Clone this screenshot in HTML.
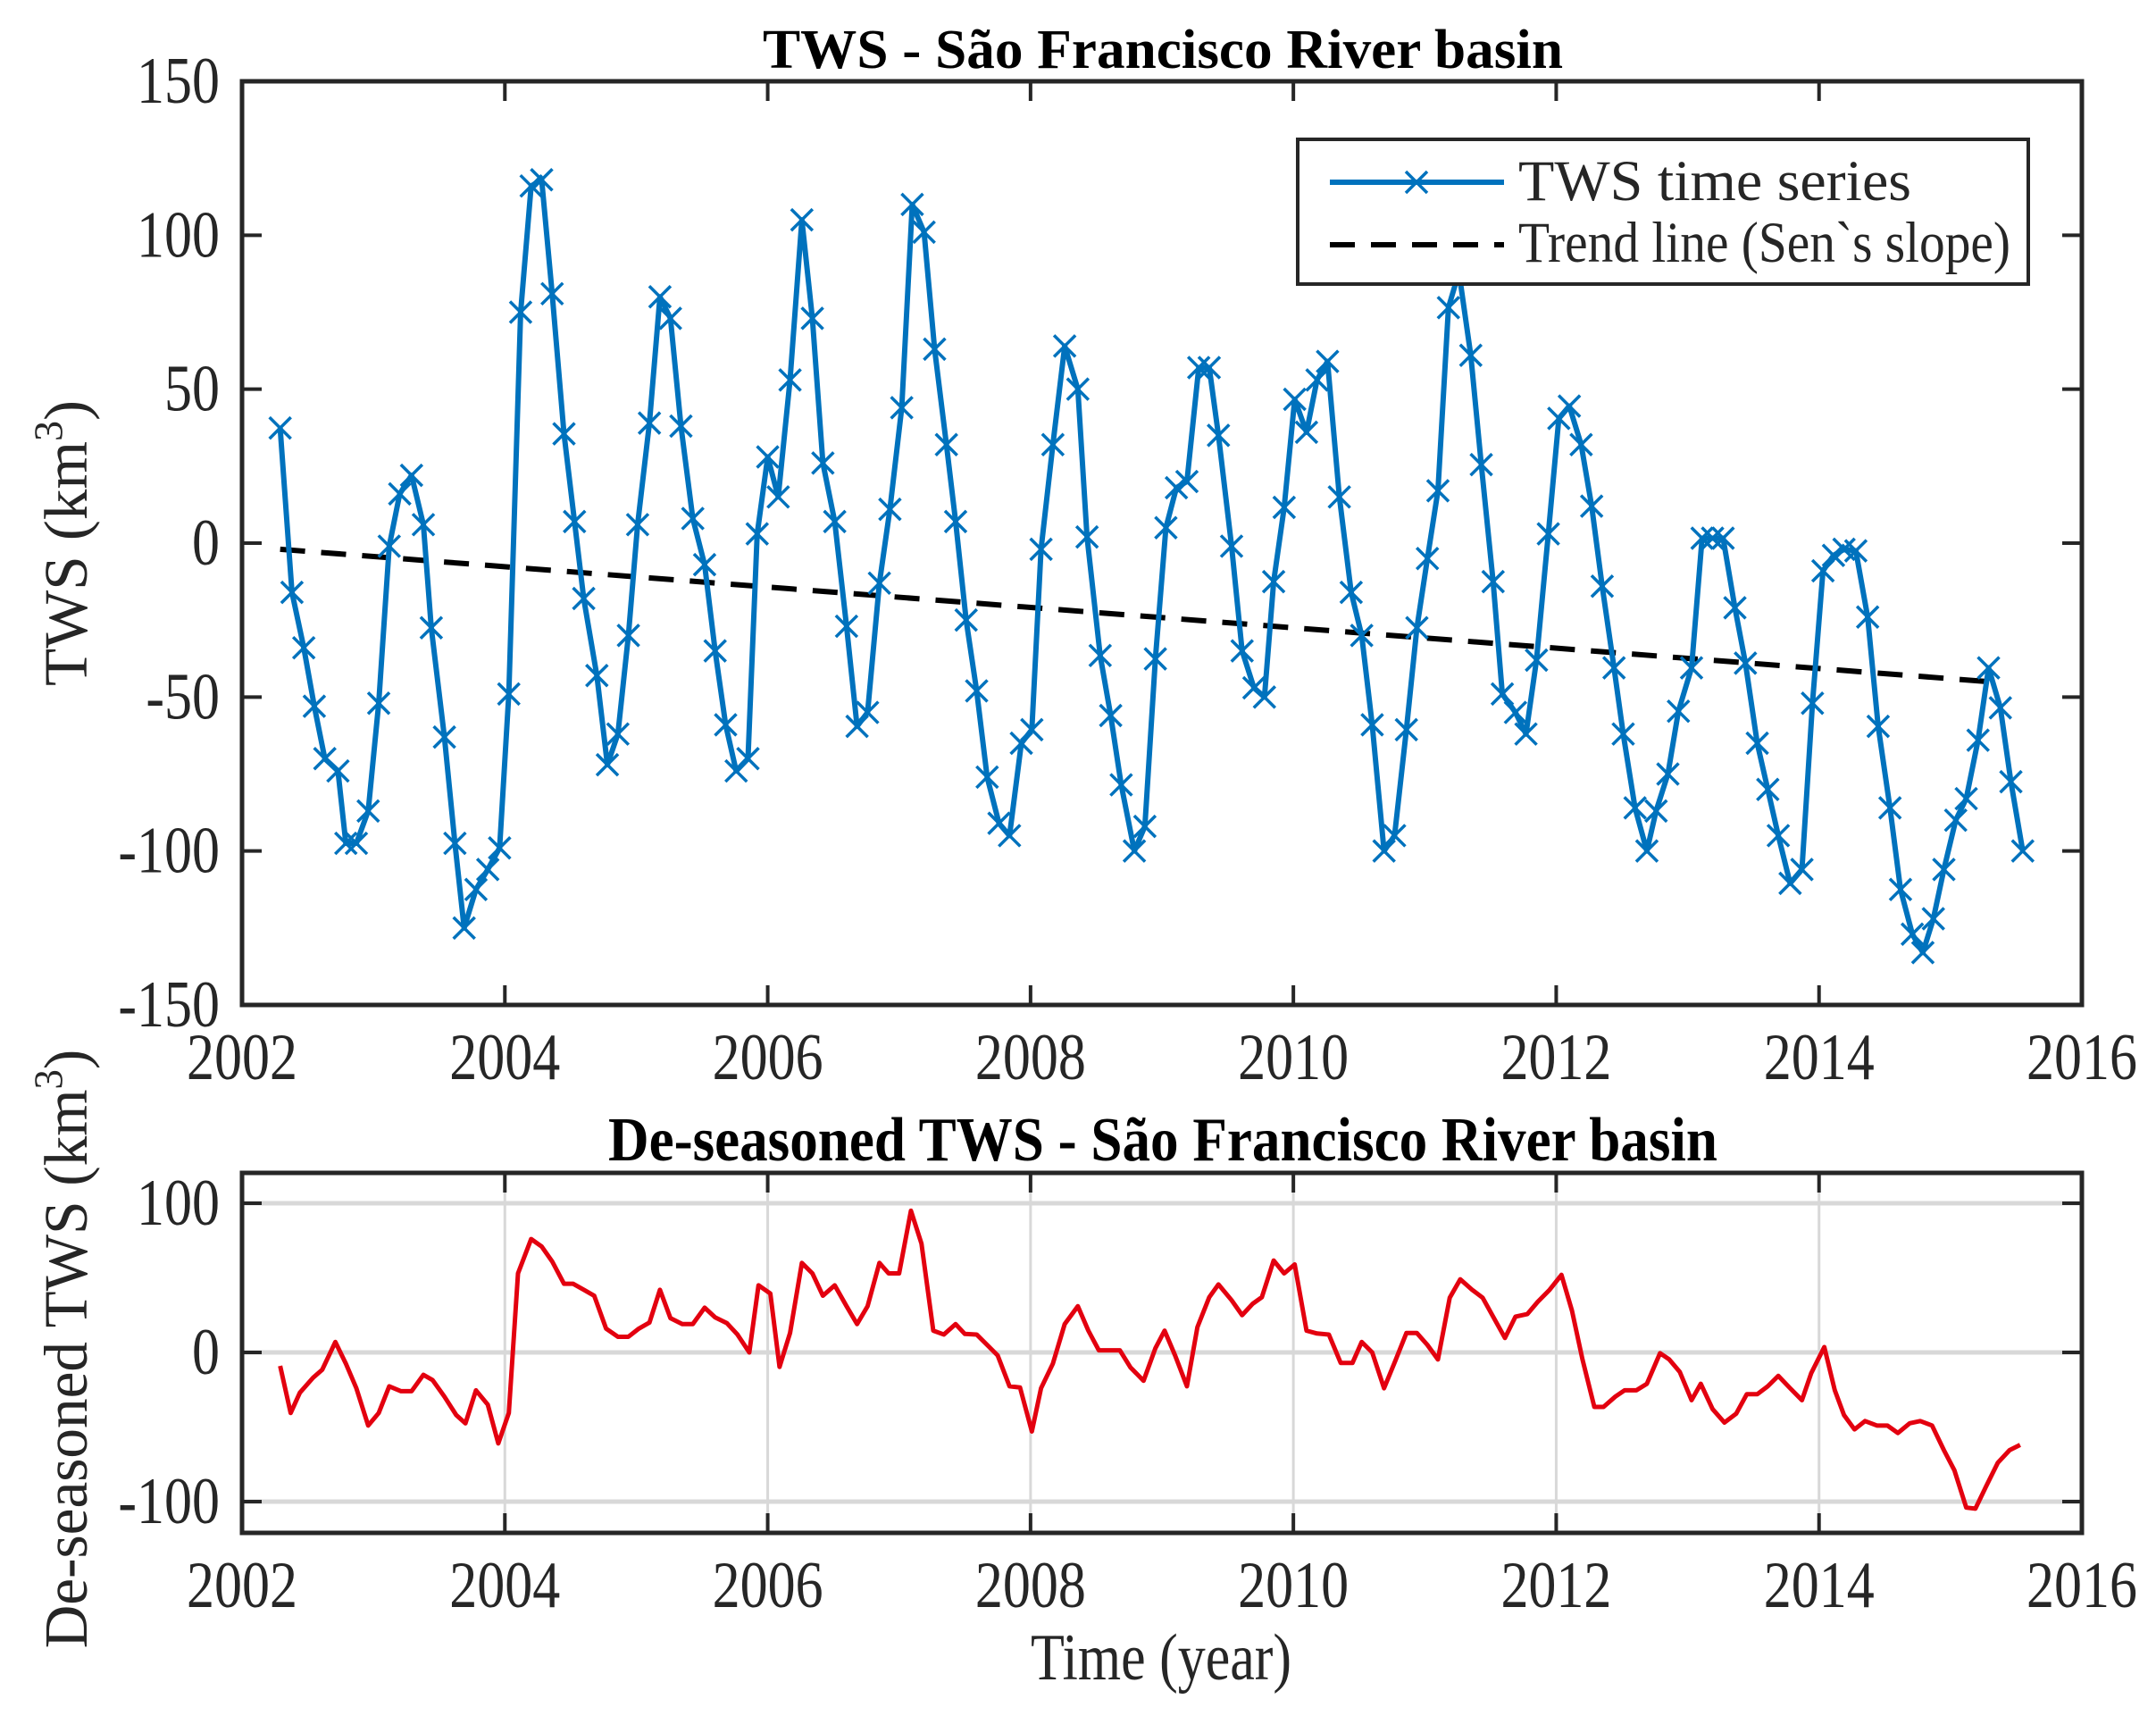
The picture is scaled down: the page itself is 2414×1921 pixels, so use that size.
<!DOCTYPE html>
<html><head><meta charset="utf-8">
<style>
html,body{margin:0;padding:0;background:#fff;}
svg{display:block;}
text{font-family:"Liberation Serif","Times New Roman",serif;fill:#262626;}
</style></head>
<body>
<svg id="chart" width="2414" height="1921" viewBox="0 0 2414 1921" xmlns="http://www.w3.org/2000/svg">
  <rect x="0" y="0" width="2414" height="1921" fill="#fff"/>
  <text transform="translate(1302,76) scale(1,1.2)" x="0" y="0" text-anchor="middle" font-size="52" font-weight="bold" style="fill:#000" textLength="896" lengthAdjust="spacingAndGlyphs">TWS - São Francisco River basin</text>
  <g id="top"></g>
  <text transform="translate(1302,1299) scale(1,1.3)" x="0" y="0" text-anchor="middle" font-size="54" font-weight="bold" style="fill:#000" textLength="1242" lengthAdjust="spacingAndGlyphs">De-seasoned TWS - São Francisco River basin</text>
  <g id="bottom"></g>
  <text transform="translate(97,608) rotate(-90) scale(1.15,1.15)" text-anchor="middle" font-size="60">TWS (km<tspan dy="-24" font-size="40">3</tspan><tspan dy="24">)</tspan></text>
  <text transform="translate(97,1510) rotate(-90) scale(1.12,1.15)" text-anchor="middle" font-size="60">De-seasoned TWS (km<tspan dy="-24" font-size="40">3</tspan><tspan dy="24">)</tspan></text>
  <text transform="translate(1300,1880) scale(1,1.2)" x="0" y="0" text-anchor="middle" font-size="62">Time (year)</text>
</svg>
<script>
const xTicks = [2002, 2004, 2006, 2008, 2010, 2012, 2014, 2016];
const topYTicks = [150, 100, 50, 0, -50, -100, -150];
const botYTicks = [100, 0, -100];
const twsYears = [2002.29,2002.38,2002.47,2002.55,2002.63,2002.73,2002.79,2002.87,2002.96,2003.04,2003.12,2003.20,2003.29,2003.38,2003.44,2003.54,2003.62,2003.69,2003.78,2003.87,2003.96,2004.03,2004.12,2004.20,2004.28,2004.36,2004.45,2004.53,2004.60,2004.70,2004.78,2004.86,2004.94,2005.01,2005.10,2005.18,2005.26,2005.34,2005.43,2005.52,2005.60,2005.68,2005.76,2005.85,2005.92,2006.00,2006.08,2006.17,2006.26,2006.34,2006.42,2006.51,2006.60,2006.68,2006.76,2006.85,2006.93,2007.02,2007.10,2007.19,2007.27,2007.36,2007.43,2007.51,2007.59,2007.67,2007.76,2007.84,2007.93,2008.01,2008.08,2008.17,2008.26,2008.36,2008.43,2008.53,2008.61,2008.69,2008.79,2008.87,2008.95,2009.03,2009.11,2009.19,2009.28,2009.36,2009.43,2009.53,2009.61,2009.70,2009.78,2009.85,2009.93,2010.01,2010.10,2010.18,2010.26,2010.35,2010.44,2010.52,2010.60,2010.69,2010.77,2010.86,2010.94,2011.02,2011.10,2011.18,2011.26,2011.35,2011.43,2011.52,2011.59,2011.69,2011.77,2011.85,2011.94,2012.02,2012.10,2012.19,2012.27,2012.35,2012.44,2012.51,2012.60,2012.69,2012.76,2012.85,2012.93,2013.03,2013.11,2013.19,2013.27,2013.36,2013.44,2013.53,2013.61,2013.69,2013.78,2013.87,2013.95,2014.03,2014.11,2014.19,2014.28,2014.37,2014.45,2014.54,2014.62,2014.71,2014.79,2014.87,2014.95,2015.04,2015.12,2015.21,2015.29,2015.38,2015.46,2015.55];
const twsValues = [37.4,-16,-34,-53,-70,-74,-97.5,-97.5,-87,-52,-1,16,22,6,-27.5,-63,-97.5,-125,-112.5,-106,-99,-49,75,116,118,81,35.5,7,-18,-43,-72,-62,-30,6,39,80,73,38,8,-7,-35,-59,-74,-70,3,28,15,53,105,73,26,7,-27,-59.5,-55,-13,11,44,110,101,63,32,7,-25,-48,-76,-91,-95,-65,-60.6,-2,32,64,50,2,-36.5,-56,-78.5,-100,-92,-37.6,5,18,20,57,57,35,-1,-35,-47,-50,-12.5,11.6,46.7,36,53,59,15,-16,-30,-59,-100,-95,-60.6,-27.5,-5,17,76.5,88,61,25.5,-12.5,-49,-55,-62,-38,3,40.5,44.5,32,12,-14,-40.5,-62,-86,-100,-87,-75,-54.6,-40.5,1.6,1.6,1.6,-21,-39,-65,-80,-95,-110.5,-106,-52,-9,-4,-2,-2.5,-24,-59.5,-86,-112.5,-127,-133,-122,-106,-90,-83,-64,-40.5,-53.5,-77.5,-100];
const trendYears = [2002.29, 2015.29];
const trendValues = [-2, -45];
const desYears = [2002.29,2002.37,2002.44,2002.54,2002.61,2002.71,2002.79,2002.87,2002.96,2003.04,2003.12,2003.21,2003.29,2003.38,2003.45,2003.54,2003.63,2003.70,2003.78,2003.87,2003.95,2004.03,2004.10,2004.20,2004.28,2004.36,2004.45,2004.52,2004.60,2004.68,2004.77,2004.86,2004.94,2005.02,2005.10,2005.18,2005.26,2005.35,2005.43,2005.52,2005.60,2005.69,2005.77,2005.86,2005.93,2006.02,2006.09,2006.17,2006.26,2006.34,2006.42,2006.51,2006.60,2006.68,2006.76,2006.85,2006.92,2007.00,2007.09,2007.17,2007.26,2007.34,2007.43,2007.50,2007.59,2007.67,2007.75,2007.84,2007.92,2008.01,2008.08,2008.17,2008.26,2008.36,2008.44,2008.52,2008.60,2008.68,2008.76,2008.86,2008.95,2009.02,2009.10,2009.19,2009.27,2009.36,2009.43,2009.53,2009.61,2009.69,2009.76,2009.85,2009.93,2010.01,2010.10,2010.18,2010.27,2010.36,2010.45,2010.52,2010.60,2010.69,2010.78,2010.86,2010.94,2011.02,2011.10,2011.19,2011.27,2011.36,2011.44,2011.52,2011.61,2011.69,2011.78,2011.86,2011.95,2012.04,2012.12,2012.20,2012.29,2012.36,2012.45,2012.52,2012.61,2012.69,2012.79,2012.86,2012.94,2013.03,2013.10,2013.19,2013.28,2013.37,2013.45,2013.53,2013.61,2013.69,2013.78,2013.87,2013.94,2014.04,2014.12,2014.19,2014.27,2014.35,2014.44,2014.52,2014.60,2014.69,2014.77,2014.86,2014.95,2015.03,2015.12,2015.19,2015.27,2015.36,2015.45,2015.53];
const desValues = [-9,-40.6,-27,-17,-11.6,7,-7.5,-24,-49,-40.6,-22.7,-26,-26,-15,-18.5,-29.6,-42,-47.5,-25.4,-35,-61,-40.6,53,76,71,61,46,46,42,38,16,10.5,10.5,16,20,42,23,19,19,30,23.5,19.6,12,0,45,39.5,-9.7,13,60,53,38,45,31,19,31,60,53,53,95,73,14.6,12,19,12.4,12,5,-2,-22.7,-23.5,-53,-24,-7.5,19,31,14.6,1.4,1.4,1.4,-10,-19,2.8,14.6,-2,-22.7,17,37,45.6,35,25,32.6,37,61.6,53,59,14.6,12.7,12,-7,-7,7,0,-24,-4.7,13,13,5,-4.7,36.7,49,42,36.7,24,9.7,24,25.7,34,42,52,28,-4.7,-36.5,-36.5,-29.6,-25.4,-25.4,-21,-0.5,-4.7,-13,-32,-21,-38,-47,-41,-28,-28,-22.7,-15.7,-24,-32,-14,3.6,-25.4,-42,-51.6,-46,-49,-49,-54,-47.5,-46,-49,-65.5,-79,-104,-104.7,-90,-74,-65.5,-62];

const NS = 'http://www.w3.org/2000/svg';
function mk(parent, tag, attrs) {
  const e = document.createElementNS(NS, tag);
  for (const k in attrs) e.setAttribute(k, attrs[k]);
  parent.appendChild(e);
  return e;
}
const L = 271, R = 2331;
const xScale = v => L + (v - 2002) / 14 * (R - L);
const topY = v => 91 + (150 - v) / 300 * (1125 - 91);
const botY = v => 1514 - v * 1.67;

function frame(g, top, bottom, yTicks, yFn, grid, prefix) {
  if (grid) {
    xTicks.forEach(t => {
      const gl = mk(g, 'line', {x1: xScale(t), x2: xScale(t), y1: top, y2: bottom, stroke: '#d8d8d8', 'stroke-width': 3});
      
      
    });
    yTicks.forEach(t => {
      const gl = mk(g, 'line', {x1: L, x2: R, y1: yFn(t), y2: yFn(t), stroke: '#d8d8d8', 'stroke-width': 5});
      
      
    });
  }
  xTicks.forEach(t => {
    const x = xScale(t);
    mk(g, 'line', {x1: x, x2: x, y1: bottom, y2: bottom - 22, stroke: '#262626', 'stroke-width': 4});
    mk(g, 'line', {x1: x, x2: x, y1: top, y2: top + 22, stroke: '#262626', 'stroke-width': 4});
    const tx = mk(g, 'text', {x: 0, y: 0, transform: `translate(${x},${bottom + 83}) scale(1,1.2)`, 'text-anchor': 'middle', 'font-size': 62});
    tx.textContent = t;
    
    
  });
  yTicks.forEach(t => {
    const y = yFn(t);
    mk(g, 'line', {x1: L, x2: L + 22, y1: y, y2: y, stroke: '#262626', 'stroke-width': 4});
    mk(g, 'line', {x1: R, x2: R - 22, y1: y, y2: y, stroke: '#262626', 'stroke-width': 4});
    const ty = mk(g, 'text', {x: 0, y: 0, transform: `translate(246,${y + 24}) scale(1,1.2)`, 'text-anchor': 'end', 'font-size': 62});
    ty.textContent = t;
    
    
  });
  const fr = mk(g, 'rect', {x: L, y: top, width: R - L, height: bottom - top, fill: 'none', stroke: '#262626', 'stroke-width': 5});
  
  
}

// Top panel
const gTop = document.getElementById('top');


frame(gTop, 91, 1125, topYTicks, topY, false, 'top');
const trend = mk(gTop, 'polyline', {points: trendYears.map((t, i) => xScale(t) + ',' + topY(trendValues[i])).join(' '), fill: 'none', stroke: '#000', 'stroke-width': 6, 'stroke-dasharray': '28 18'});


const tws = mk(gTop, 'polyline', {points: twsYears.map((t, i) => xScale(t) + ',' + topY(twsValues[i])).join(' '), fill: 'none', stroke: '#0072BD', 'stroke-width': 6, 'stroke-linejoin': 'round'});


twsYears.forEach((t, i) => {
  const x = xScale(t), y = topY(twsValues[i]), s = 12;
  const m = mk(gTop, 'path', {d: `M${x-s},${y-s}L${x+s},${y+s}M${x-s},${y+s}L${x+s},${y-s}`, stroke: '#0072BD', 'stroke-width': 3.5, fill: 'none'});
  
  
});
// legend
const lg = mk(gTop, 'g', {});


mk(lg, 'rect', {x: 1453, y: 156, width: 818, height: 162, fill: '#fff', stroke: '#262626', 'stroke-width': 4});
mk(lg, 'line', {x1: 1489, x2: 1684, y1: 204, y2: 204, stroke: '#0072BD', 'stroke-width': 6});
mk(lg, 'path', {d: 'M1574,192L1598,216M1574,216L1598,192', stroke: '#0072BD', 'stroke-width': 3.5});
mk(lg, 'line', {x1: 1489, x2: 1684, y1: 274, y2: 274, stroke: '#000', 'stroke-width': 6, 'stroke-dasharray': '28 18'});
const l1 = mk(lg, 'text', {x: 0, y: 0, transform: 'translate(1700,224) scale(1,1.2)', 'font-size': 54, textLength: 440, lengthAdjust: 'spacingAndGlyphs'});
l1.textContent = 'TWS time series';


const l2 = mk(lg, 'text', {x: 0, y: 0, transform: 'translate(1700,293) scale(1,1.2)', 'font-size': 54, textLength: 551, lengthAdjust: 'spacingAndGlyphs'});
l2.textContent = 'Trend line (Sen`s slope)';



// Bottom panel
const gBot = document.getElementById('bottom');


frame(gBot, 1313, 1716, botYTicks, botY, true, 'bottom');
const des = mk(gBot, 'polyline', {points: desYears.map((t, i) => xScale(t) + ',' + botY(desValues[i])).join(' '), fill: 'none', stroke: '#e3000f', 'stroke-width': 5, 'stroke-linejoin': 'round'});


</script>
</body></html>
